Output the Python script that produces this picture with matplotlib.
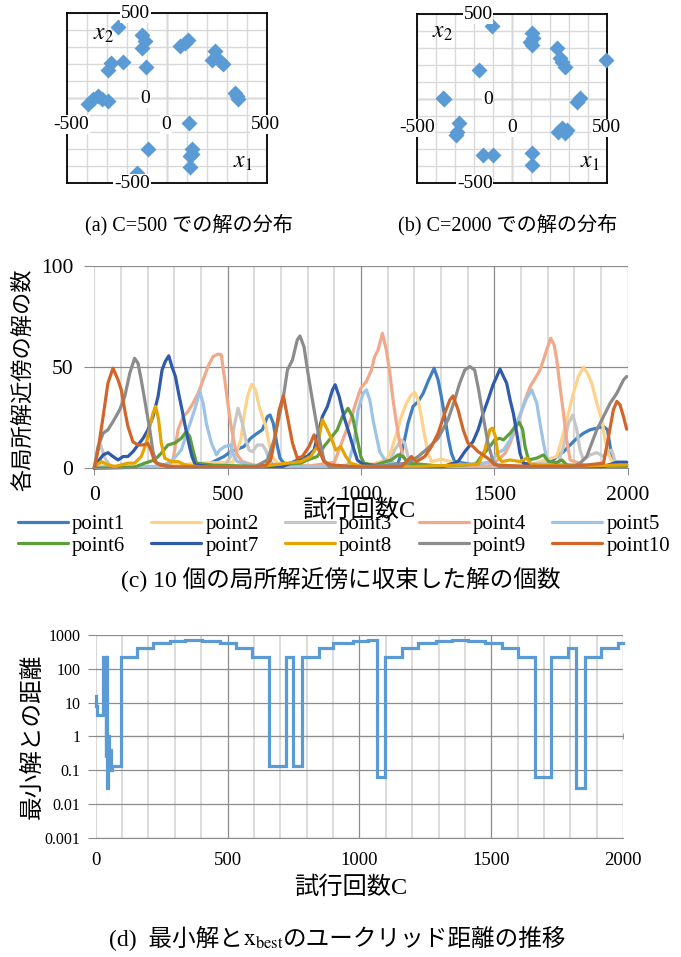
import matplotlib
matplotlib.use('Agg')
import matplotlib.pyplot as plt
from matplotlib.ticker import MultipleLocator, NullLocator

plt.rcParams['font.family'] = ['Liberation Serif', 'Noto Sans CJK JP']
plt.rcParams['mathtext.fontset'] = 'stix'

# ---- (a) C=500 solution distribution
a_x1 = [-243, -127, -110, -127, -105, -282, -293, -218, -368, -343, -393, -293, -327,
        90, 65, 107, 240, 223, 282, 265, 348, 340, 357, 112, -97, 123, 123, 115, 115, -148]
a_x2 = [419, 376, 337, 298, 186, 210, 170, 213, -6, 14, -35, -16, -2,
        327, 307, 343, 278, 229, 200, 219, 14, 33, -6, -147, -300, -296, -329, -339, -404, -441]

# ---- (b) C=2000 solution distribution
b_x1 = [-102, 105, 114, 105, 96, 237, 254, 281, 263, 495, -172, -355, -362,
        -276, -293, -286, 359, 342, 263, 289, 281, 245, -149, -97, 105, 105]
b_x2 = [431, 386, 357, 317, 337, 298, 239, 189, 219, 229, 170, -2, 2,
        -145, -214, -195, 2, -18, -175, -185, -204, -195, -333, -333, -323, -392]

# ---- (c) number of solutions near each local optimum
point1_x = [0, 150, 300, 420, 486, 511, 536, 561, 586, 611, 630, 649, 659, 671, 684, 696, 711, 800,
            950, 1100, 1139, 1158, 1176, 1195, 1214, 1233, 1251, 1274, 1289, 1301, 1314, 1326, 1339,
            1351, 1450, 1600, 1709, 1734, 1759, 1784, 1809, 1834, 1859, 1884, 1909, 1924, 1934, 1946,
            1970, 1996]
point1_y = [0.5, 0.5, 1, 1.5, 5.8, 8.2, 9.4, 10.7, 14.8, 17.3, 19, 25.5, 26.3, 22.2, 12.4, 5, 2.5, 1,
            0.5, 0.8, 2.5, 10.7, 22.2, 30.5, 32.9, 37, 42.8, 49.4, 43.6, 35.4, 25.5, 15.6, 7.4,
            3.3, 1, 0.5, 2.5, 5.8, 8.2, 11.5, 14.8, 17.3, 19, 19.8, 20.6, 19, 10.7, 3.3,
            2, 2]
point2_x = [0, 30, 60, 200, 400, 520, 549, 561, 574, 590, 605, 618, 630, 643, 655, 668, 686, 800,
            1000, 1095, 1114, 1133, 1151, 1170, 1189, 1201, 1214, 1226, 1239, 1251, 1264, 1300,
            1330, 1400, 1600, 1734, 1759, 1778, 1796, 1815, 1834, 1849, 1865, 1884, 1903, 1915,
            1931, 1946, 1996]
point2_y = [0, 3, 1, 0.5, 2.5, 3, 14, 25.5, 35.4, 41.5, 38.7, 30.5, 25.5, 20.6, 12.4, 5.8, 2.5, 1,
            0.5, 4.1, 9, 17.3, 25.5, 32.1, 36.2, 37.4, 33.7, 25.5, 15.6, 7.4, 3.3, 4.5,
            3.5, 1, 0.5, 5.8, 17.3, 27.2, 37, 45.3, 49.9, 46.9, 42, 32.1, 23.9, 14,
            5.8, 2.5, 1]
point3_x = [0, 10, 22, 40, 60, 200, 400, 490, 511, 524, 539, 555, 568, 580, 593, 611, 630, 643, 655,
            680, 900, 1100, 1126, 1151, 1164, 1176, 1200, 1500, 1740, 1759, 1778, 1794, 1809, 1821,
            1834, 1859, 1884, 1909, 1928, 1940, 1953, 1975, 1996]
point3_y = [0, 8, 12, 5, 1, 0.5, 0.5, 1.5, 5.8, 20.6, 29.6, 22.2, 14, 9, 8.2, 11.5, 11.5, 9, 4.1,
            1, 0.5, 1, 9, 14, 12.4, 5.8, 1.5, 0.5, 3, 10.7, 22.2, 26.3, 19, 9,
            4.1, 6.6, 7.7, 5.8, 8.2, 9, 3.3, 1, 1]
point4_x = [0, 200, 280, 295, 314, 333, 351, 370, 389, 408, 426, 445, 464, 476, 489, 499, 511, 524,
            536, 555, 600, 800, 900, 936, 961, 980, 999, 1020, 1039, 1051, 1064, 1080, 1095, 1108,
            1120, 1133, 1145, 1158, 1176, 1300, 1480, 1521, 1540, 1559, 1578, 1596, 1615, 1634,
            1653, 1671, 1684, 1696, 1711, 1724, 1734, 1746, 1759, 1771, 1784, 1850, 1996]
point4_y = [0, 0.5, 1, 4.1, 19, 25.5, 28, 32.1, 37, 43.6, 50.2, 55.1, 56.4, 56, 43.6, 33.7, 22.2, 12.4,
            6.6, 3.3, 1.5, 1, 3, 15.6, 23.9, 32.1, 39.5, 42.8, 48.5, 55.1, 58.4, 66.6, 58.4, 46.9,
            33.7, 22.2, 12.4, 5.8, 2.5, 1, 1, 5, 7.4, 12.4, 19, 25.5, 33.7, 40.3,
            44.4, 48.5, 53.5, 58.4, 64.2, 60.9, 53.5, 40.3, 27.2, 14, 4.1, 1, 1]
point5_x = [0, 100, 250, 289, 326, 351, 376, 395, 408, 420, 439, 458, 470, 489, 511, 524, 536, 600,
            800, 950, 974, 989, 1008, 1020, 1033, 1045, 1058, 1070, 1089, 1114, 1140, 1300, 1490,
            1509, 1534, 1559, 1578, 1603, 1621, 1640, 1659, 1671, 1684, 1696, 1709, 1800, 1996]
point5_y = [0, 0.5, 1, 3.3, 9, 19, 28.8, 37.9, 32.1, 22.2, 12.4, 6.6, 9, 10.7, 11.5, 5.8, 3.3, 1,
            0.5, 1.5, 12.4, 28.8, 37, 38.7, 33.7, 23.9, 15.6, 8.2, 4.1, 3.3, 1, 0.5, 3,
            7.4, 9, 14, 20.6, 28.8, 34.6, 38.7, 32.1, 22.2, 12.4, 5, 2.5, 1, 1]
point6_x = [0, 150, 189, 226, 251, 276, 301, 326, 345, 358, 370, 383, 450, 600, 774, 799, 836, 861,
            886, 911, 930, 951, 968, 984, 999, 1011, 1050, 1114, 1139, 1158, 1176, 1300, 1430, 1451,
            1483, 1501, 1520, 1534, 1559, 1578, 1594, 1606, 1615, 1628, 1659, 1684, 1703, 1734,
            1753, 1771, 1850, 1996]
point6_y = [0, 0.5, 2.5, 4.1, 7.4, 11.5, 12.4, 14.8, 18.1, 15.6, 9, 2.5, 1.5, 1, 2.5, 4.1, 5.8, 10.7,
            14.8, 19, 25.5, 29.6, 25.5, 15.6, 5.8, 2.5, 1.5, 4.1, 6.6, 5.8, 2.5, 1, 2, 5.8,
            10.7, 14, 14.8, 14, 17.3, 20.6, 22.6, 19, 10.7, 4.1, 5, 6.6, 3.3, 2.8,
            4.1, 1.7, 1, 1]
point7_x = [0, 14, 33, 51, 70, 89, 108, 126, 145, 164, 183, 201, 220, 239, 254, 266, 279, 291, 304,
            316, 329, 341, 354, 366, 379, 450, 700, 761, 800, 824, 855, 874, 893, 903, 918, 936,
            955, 974, 986, 1005, 1100, 1300, 1364, 1389, 1420, 1439, 1458, 1476, 1495, 1508, 1521,
            1534, 1546, 1559, 1571, 1584, 1596, 1609, 1700, 1900, 1960, 1996]
point7_y = [0, 3.3, 6.6, 7.7, 5.8, 4.1, 5.8, 5.8, 8.2, 11.5, 14.8, 19, 25.5, 35.4, 48.5, 52.7, 55.5,
            50.2, 45.3, 37, 28.8, 20.6, 12.4, 5.8, 1.7, 0.5, 0.5, 4, 6, 9, 25.5, 30.5, 38.7, 41.2,
            35.4, 25.5, 17.3, 9, 4.1, 2.1, 0.5, 0.5, 3.3, 8.2, 13.2, 19, 27.2, 33.7, 41.2, 45,
            49, 45.3, 42, 33.7, 27.2, 17.3, 7.4, 2.5, 0.5, 0.5, 3, 3]
point8_x = [0, 26, 51, 76, 101, 126, 151, 176, 195, 208, 220, 230, 241, 251, 264, 289, 314, 339, 400,
            600, 774, 811, 836, 855, 868, 886, 905, 924, 943, 961, 1000, 1200, 1440, 1464, 1483,
            1493, 1504, 1514, 1528, 1559, 1596, 1621, 1640, 1800, 1996]
point8_y = [0.8, 3.3, 1.7, 0.8, 1.7, 2.5, 2.5, 5.8, 12.4, 20.6, 27.2, 30.5, 23.9, 12.4, 5, 3.3, 3.3,
            1.7, 0.5, 0.5, 3.3, 5.8, 10.7, 23.9, 20.6, 15.6, 9, 10.7, 5.8, 2.5, 1, 0.8, 2, 9, 19,
            19.8, 15.6, 5.8, 3.3, 4.1, 3.3, 5, 1.7, 1, 1.7]
point9_x = [0, 14, 33, 51, 70, 95, 114, 133, 151, 164, 176, 191, 208, 220, 233, 300, 600, 649, 674,
            693, 711, 724, 743, 761, 771, 786, 805, 824, 842, 861, 880, 1000, 1176, 1214, 1251,
            1289, 1326, 1351, 1370, 1389, 1408, 1426, 1441, 1458, 1476, 1495, 1520, 1700, 1796,
            1821, 1846, 1865, 1884, 1909, 1934, 1959, 1984, 1996]
point9_y = [0, 10.7, 17.3, 19, 23, 28.8, 35.4, 46.9, 54.3, 51.8, 43.6, 32.1, 19, 8.2, 2.5, 0.5, 0.5,
            4.1, 14, 25.5, 37, 48.5, 53.5, 63.4, 65.3, 60, 43.6, 28.8, 15.6, 4.1, 0.8, 0.5, 2.5,
            5.8, 9.9, 14.8, 23.9, 33.7, 42, 48.5, 50.2, 48.5, 38.7, 25.5, 12.4, 3.3, 0.5, 0.5,
            0.8, 2.5, 5.8, 12.4, 19, 25.5, 32.1, 37, 43.6, 45.3]
point10_x = [0, 14, 33, 51, 70, 89, 101, 114, 126, 145, 164, 183, 201, 214, 226, 245, 276, 400, 600,
             643, 661, 674, 693, 709, 724, 743, 761, 780, 805, 824, 842, 861, 886, 1000, 1151, 1189,
             1208, 1239, 1264, 1289, 1314, 1333, 1345, 1364, 1383, 1401, 1420, 1439, 1458, 1483,
             1501, 1600, 1800, 1909, 1928, 1946, 1959, 1971, 1984, 1996]
point10_y = [0, 9, 25.5, 42, 49.4, 43.6, 38.7, 28.8, 20.6, 13, 11.5, 11.5, 12.3, 8.2, 3.3, 1.7, 0.8,
             0.5, 0.5, 1.5, 4, 12.4, 28.8, 35.7, 25.5, 12.4, 5, 5.8, 10.7, 16.5, 9, 3.3, 1.7, 0.5,
             0.8, 5.8, 3.3, 5.8, 10.7, 17.3, 27.2, 33.7, 35.7, 28.8, 19, 12.4, 10.7, 8.2, 6.6,
             4.1, 1.7, 1, 1, 2.5, 15.6, 28.8, 33, 31.3, 25.5, 19.3]

series_names = ['point1', 'point2', 'point3', 'point4', 'point5',
                'point6', 'point7', 'point8', 'point9', 'point10']
series_x = [point1_x, point2_x, point3_x, point4_x, point5_x,
            point6_x, point7_x, point8_x, point9_x, point10_x]
series_y = [point1_y, point2_y, point3_y, point4_y, point5_y,
            point6_y, point7_y, point8_y, point9_y, point10_y]
series_colors = ['#3F7FC1', '#FFD28A', '#C6C6C6', '#F2A98A', '#9DC3E6',
                 '#5E9E3A', '#2F5BAA', '#E6A400', '#8C8C8C', '#D0662A']

# ---- (d) distance between the minimum solution and x_best (step changes)
d_x = [0, 3, 6, 29, 38, 40, 44, 48, 51, 54, 57, 60, 95, 155, 218, 282, 338, 402, 471, 532, 594,
       658, 721, 749, 784, 848, 901, 974, 1033, 1065, 1096, 1160, 1223, 1290, 1349, 1412, 1475,
       1539, 1602, 1665, 1726, 1789, 1820, 1854, 1914, 1981, 2000]
d_y = [16, 8, 4.2, 230, 0.25, 230, 0.03, 1.0, 0.1, 0.4, 0.1, 0.13, 220, 400, 560, 650, 690, 650,
       560, 400, 220, 0.13, 220, 0.13, 220, 400, 560, 650, 690, 0.064, 220, 400, 560, 650, 690,
       650, 560, 400, 220, 0.064, 220, 400, 0.03, 220, 400, 560, 560]
d_yticks = [0.001, 0.01, 0.1, 1, 10, 100, 1000]
d_ylabels = ['0.001', '0.01', '0.1', '1', '10', '100', '1000']

c_ticks = [0, 500, 1000, 1500, 2000]

fig = plt.figure(figsize=(6.81, 9.57), dpi=100)

MAJOR = '#8C8C8C'
MINOR = '#D9D9D9'


def scatter_panel(rect, xs, ys, xtick_pos, ytick_pos, x1_pos, x2_pos):
    ax = fig.add_axes(rect)
    ax.set_xlim(-500, 500)
    ax.set_ylim(-500, 500)
    ax.set_xticks([])
    ax.set_yticks([])
    ax.xaxis.set_minor_locator(MultipleLocator(100))
    ax.yaxis.set_minor_locator(MultipleLocator(100))
    ax.tick_params(which='both', length=0)
    ax.grid(which='minor', color=MINOR, lw=1.0)
    ax.axhline(0, color='#A6A6A6', lw=1.0, zorder=1.5)
    ax.axvline(0, color='#A6A6A6', lw=1.0, zorder=1.5)
    for s in ax.spines.values():
        s.set_color('black')
        s.set_linewidth(1.3)
    ax.plot(xs, ys, 'D', ms=8.4, color='#5B9BD5', mec='none', zorder=3, clip_on=False)
    box = dict(facecolor='white', edgecolor='none', pad=0.5)
    for (tx, ty), lab in zip(xtick_pos, ['-500', '0', '500']):
        ax.text(tx, ty, lab, ha='center', va='center', fontsize=14, bbox=box, zorder=6)
    for (tx, ty), lab in zip(ytick_pos, ['500', '0', '-500']):
        ax.text(tx, ty, lab, ha='right', va='center', fontsize=14, bbox=box, zorder=6)
    ax.text(x1_pos[0], x1_pos[1], '$x_1$', ha='center', va='center', fontsize=17, zorder=6)
    ax.text(x2_pos[0], x2_pos[1], '$x_2$', ha='center', va='center', fontsize=17, zorder=6)
    return ax


scatter_panel([0.0984, 0.8083, 0.2937, 0.1776], a_x1, a_x2,
              [(-477, -153), (-5, -153), (490, -153)],
              [(-85, 498), (-85, 0), (-85, -500)],
              (380, -376), (-320, 375))
scatter_panel([0.6119, 0.8085, 0.2790, 0.1769], b_x1, b_x2,
              [(-500, -173), (0, -173), (500, -173)],
              [(-100, 494), (-100, -7), (-100, -500)],
              (413, -380), (-362, 388))

fig.text(0.277, 0.765, '(a) C=500 での解の分布', ha='center', va='center', fontsize=14.5)
fig.text(0.746, 0.765, '(b) C=2000 での解の分布', ha='center', va='center', fontsize=14.5)

# ---- (c)
axc = fig.add_axes([0.1385, 0.5107, 0.7833, 0.2117])
handles = []
for xs, ys, col, name in zip(series_x, series_y, series_colors, series_names):
    h, = axc.plot(xs, ys, color=col, lw=2.3, label=name, clip_on=False,
                  solid_joinstyle='round', solid_capstyle='round')
    handles.append(h)
axc.set_xlim(0, 2000)
axc.set_ylim(0, 100)
axc.set_xticks(c_ticks)
axc.set_yticks([0, 50, 100])
axc.xaxis.set_minor_locator(MultipleLocator(100))
axc.set_axisbelow(True)
axc.grid(which='major', color=MAJOR, lw=0.9)
axc.grid(which='minor', axis='x', color=MINOR, lw=1.3)
axc.get_xgridlines()[0].set_color(MINOR)
for k in ['left', 'top', 'right']:
    axc.spines[k].set_visible(False)
axc.spines['bottom'].set_color(MAJOR)
axc.tick_params(axis='x', which='major', length=5, color=MAJOR, labelsize=15.5, pad=8)
axc.tick_params(axis='y', which='major', length=7, color=MAJOR, labelsize=15.5, pad=8)
axc.tick_params(which='minor', length=0)

fig.text(0.034, 0.603, '各局所解近傍の解の数', rotation=90, ha='center', va='center', fontsize=16)
fig.text(0.527, 0.466, '試行回数C', ha='center', va='center', fontsize=17.5)

order = [0, 5, 1, 6, 2, 7, 3, 8, 4, 9]
fig.legend([handles[i] for i in order], [series_names[i] for i in order], ncol=5,
           loc='center', bbox_to_anchor=(0.505, 0.441), frameon=False, fontsize=15,
           handlelength=2.4, handletextpad=0.2, columnspacing=1.25, labelspacing=0.1,
           borderpad=0)

fig.text(0.5, 0.394, '(c) 10 個の局所解近傍に収束した解の個数', ha='center', va='center', fontsize=17)

# ---- (d)
axd = fig.add_axes([0.1405, 0.1247, 0.7747, 0.2118])
axd.plot(d_x, d_y, drawstyle='steps-post', color='#5B9BD5', lw=2.3, clip_on=False,
         solid_joinstyle='miter')
axd.set_yscale('log')
axd.set_ylim(0.001, 1000)
axd.set_xlim(0, 2000)
axd.set_yticks(d_yticks, d_ylabels)
axd.yaxis.set_minor_locator(NullLocator())
axd.set_xticks(c_ticks)
axd.xaxis.set_minor_locator(MultipleLocator(100))
axd.set_axisbelow(True)
axd.grid(which='major', color=MAJOR, lw=0.9)
axd.grid(which='minor', axis='x', color=MINOR, lw=1.3)
axd.get_xgridlines()[0].set_color(MINOR)
for k in ['left', 'top', 'right']:
    axd.spines[k].set_visible(False)
axd.spines['bottom'].set_color(MAJOR)
axd.tick_params(axis='x', which='major', length=0, labelsize=13.5, pad=10)
axd.tick_params(axis='y', which='major', length=6, color=MAJOR, labelsize=11.5, pad=5)
axd.tick_params(which='minor', length=0)

sec = axd.secondary_xaxis(0.5)
sec.xaxis.set_major_locator(NullLocator())
sec.xaxis.set_minor_locator(MultipleLocator(100))
sec.tick_params(which='minor', direction='inout', length=5, color=MAJOR)
for s in sec.spines.values():
    s.set_color(MAJOR)

fig.text(0.048, 0.2304, '最小解との距離', rotation=90, ha='center', va='center', fontsize=17)
fig.text(0.515, 0.073, '試行回数C', ha='center', va='center', fontsize=17.5)

# caption (d): plain text pieces laid out side by side so CJK glyphs keep their font
cap_pieces = ['(d)  最小解と', r'$\mathrm{x}_{\mathrm{best}}$', 'のユークリッド距離の推移']
renderer = fig.canvas.get_renderer()
cap_texts = [fig.text(0, 0.0115, s, ha='left', va='baseline', fontsize=17) for s in cap_pieces]
cap_widths = [t.get_window_extent(renderer).width for t in cap_texts]
x_px = 0.496 * fig.bbox.width - sum(cap_widths) / 2
for t, w in zip(cap_texts, cap_widths):
    t.set_x(x_px / fig.bbox.width)
    x_px += w

fig.savefig('out.png', dpi=100)
